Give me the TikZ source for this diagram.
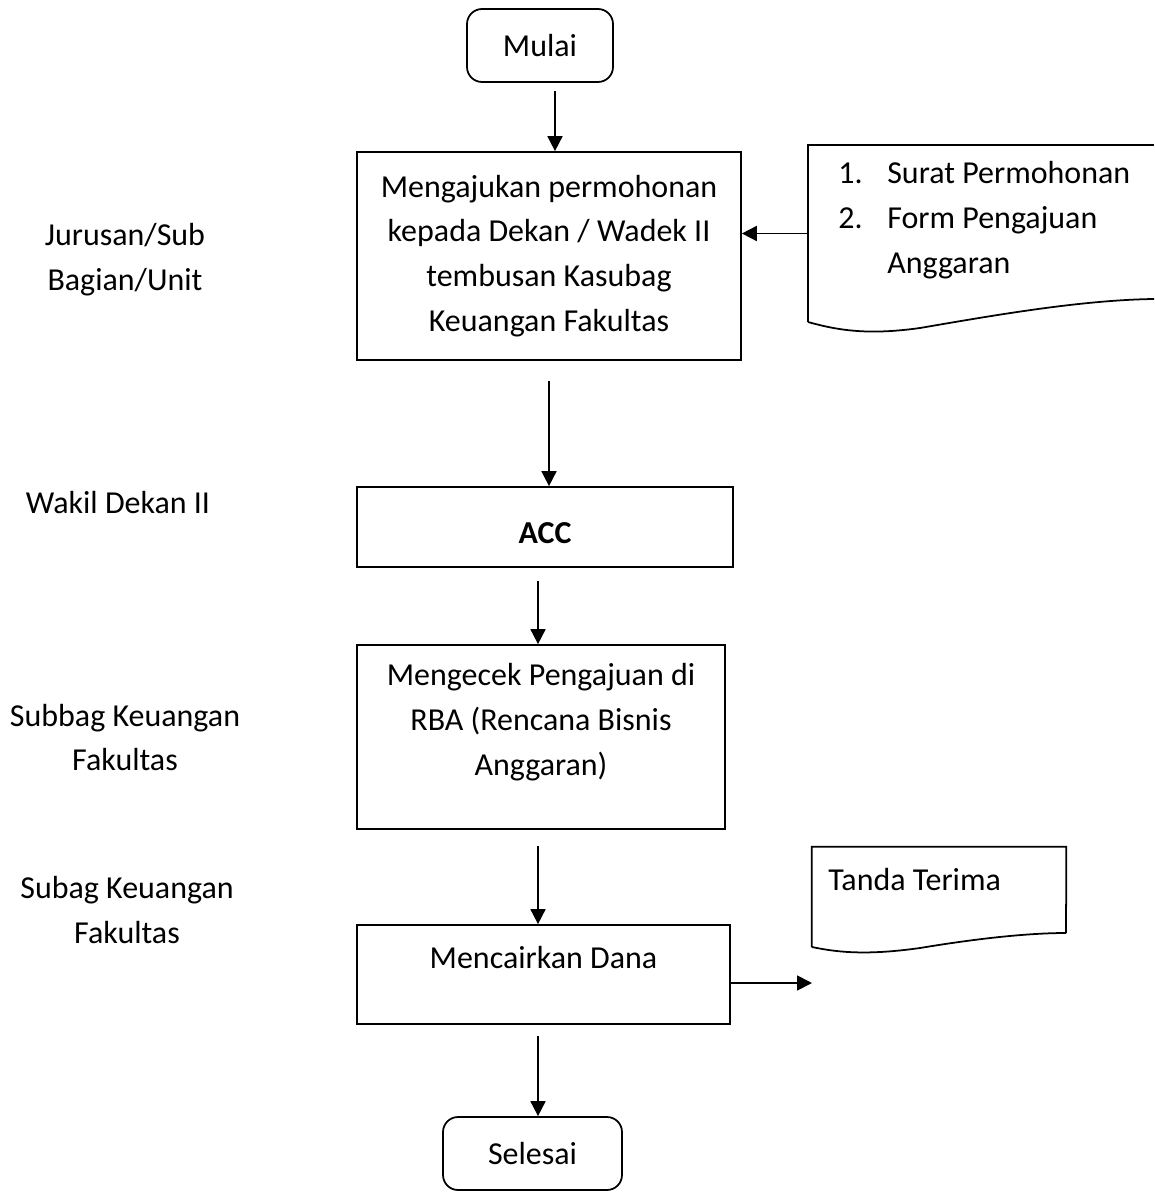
\documentclass[tikz,border=0pt]{standalone}
\usepackage{fontspec}
\setmainfont{Carlito}
\usetikzlibrary{arrows.meta}
\tikzset{
	kotak/.style={draw, line width=1pt, inner sep=0pt, align=center},
	ujung/.style={draw, line width=1pt, rounded corners=0.3cm, inner sep=0pt},
	teks/.style={align=center, inner sep=0pt},
	panah/.style={line width=1pt, -{Triangle[length=8.5pt,width=8.5pt]}},
}
\begin{document}
\begin{tikzpicture}[x=0.02cm, y=-0.02cm, font=\fontsize{18.2pt}{25.5pt}\selectfont]
	\useasboundingbox (0,0) rectangle (1154,1192);
	
	% Terminal
	\node[ujung, minimum width=2.92cm, minimum height=1.46cm] (mulai) at (540,45.5) {Mulai};
	\node[ujung, minimum width=3.58cm, minimum height=1.46cm] (selesai) at (532.5,1153.5) {Selesai};
	
	% Proses
	\node[kotak, minimum width=7.68cm, minimum height=4.16cm] (ajukan) at (549,256)
		{Mengajukan permohonan\\kepada Dekan / Wadek II\\tembusan Kasubag\\Keuangan Fakultas};
	\node[kotak, minimum width=7.52cm, minimum height=1.6cm] (acc) at (545,527) {};
	\node[teks] at ([yshift=-0.12cm]acc.center) {\textbf{ACC}};
	\node[kotak, minimum width=7.36cm, minimum height=3.68cm] (cek) at (541,737) {};
	\node[teks] at ([yshift=0.3cm]cek.center) {Mengecek Pengajuan di\\RBA (Rencana Bisnis\\Anggaran)};
	\node[kotak, minimum width=7.46cm, minimum height=1.98cm] (cair) at (543.5,974.5) {};
	\node[teks] at ([yshift=0.33cm]cair.center) {Mencairkan Dana};
	
	% Dokumen
	\node[minimum width=6.92cm, minimum height=3.54cm, inner sep=0pt] (dok1) at (981,233.5) {};
	\draw[line width=1pt] (dok1.south west) -- (dok1.north west) -- (dok1.north east);
	\draw[line width=1pt] (808,322) .. controls (840,331) and (870,335) .. (920,328)
		.. controls (990,316) and (1080,300) .. (1154,299);
	\node[teks, anchor=west, align=left] (syarat) at (838,220)
		{\makebox[0.98cm][l]{1.}Surat Permohonan\\\makebox[0.98cm][l]{2.}Form Pengajuan\\\makebox[0.98cm][l]{}Anggaran};
	
	\node[minimum width=5.08cm, minimum height=2cm, inner sep=0pt] (dok2) at (939,897) {};
	\draw[line width=1pt] (dok2.south west) -- (dok2.north west) -- (dok2.north east) -- (1066,933);
	\draw[line width=1pt] (812,947) .. controls (840,953) and (870,955) .. (920,948)
		.. controls (980,938) and (1030,933) .. (1066,933);
	\node[teks, anchor=west] (terima) at (828,880) {Tanda Terima};
	\coordinate (masuk) at (812,983);
	
	% Pelaksana
	\node[teks] (jurusan) at (125,259.5) {Jurusan/Sub\\Bagian/Unit};
	\node[teks] (wadek) at (118,503) {Wakil Dekan II};
	\node[teks] (subbag) at (125,737.5) {Subbag Keuangan\\Fakultas};
	\node[teks] (subag) at (127,910) {Subag Keuangan\\Fakultas};
	
	% Alur
	\draw[panah, shorten <=0.16cm] ([xshift=0.3cm]mulai.south) -- ([xshift=0.3cm]mulai.south |- ajukan.north);
	\draw[panah] (dok1.west) -- (dok1.west -| ajukan.east);
	\draw[panah, shorten <=0.4cm] (ajukan.south) -- (ajukan.south |- acc.north);
	\draw[panah, shorten <=0.26cm] ([xshift=-0.14cm]acc.south) -- ([xshift=-0.14cm]acc.south |- cek.north);
	\draw[panah, shorten <=0.32cm] ([xshift=-0.06cm]cek.south) -- ([xshift=-0.06cm]cek.south |- cair.north);
	\draw[panah, shorten <=0.22cm] ([xshift=-0.11cm]cair.south) -- ([xshift=-0.11cm]cair.south |- selesai.north);
	\draw[panah] (cair.east |- masuk) -- (masuk);
\end{tikzpicture}
\end{document}
